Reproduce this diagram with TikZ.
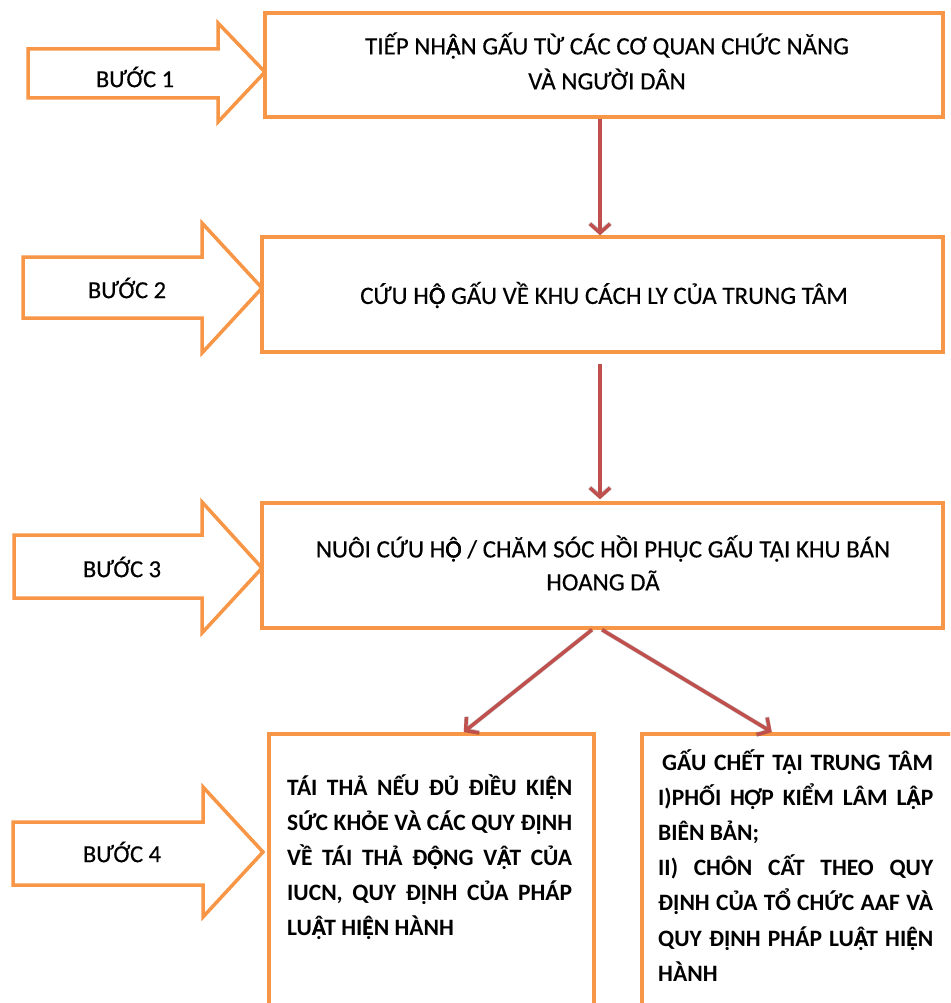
\documentclass[tikz,border=0pt]{standalone}
\usepackage{fontspec}
\setmainfont{Carlito}
\newfontface\heavyface{Carlito}[FakeBold=0.35]
\usetikzlibrary{arrows.meta}
\definecolor{boxorange}{HTML}{F79646}
\definecolor{flowred}{HTML}{C0504D}
% letters with circumflex and dot below, built from two glyphs of equal width
\newcommand{\vnA}{\makebox[0pt][l]{Ạ}Â}
\newcommand{\vnE}{\makebox[0pt][l]{Ẹ}Ê}
\newcommand{\vnO}{\makebox[0pt][l]{Ọ}Ô}
\newcommand{\fullline}[1]{\makebox[\linewidth][s]{#1}}
\tikzset{
  frame/.style={draw=boxorange, line width=3.5pt, fill=white, inner sep=0pt},
  blockarrow/.style={draw=boxorange, line width=3.5pt, line join=miter, fill=white},
  steplabel/.style={font=\heavyface\fontsize{24.5}{26}\selectfont, inner sep=0pt},
  boxtext/.style={font=\heavyface\fontsize{25}{35}\selectfont, align=center, inner sep=0pt},
  sidetext/.style={inner sep=0pt, anchor=base west},
  flow/.style={draw=flowred, line width=3.5pt, -{Straight Barb[length=9pt,width=20pt]}},
  flowshadow/.style={draw=black, opacity=0.18, line width=4.5pt, -{Straight Barb[length=9pt,width=21pt]}},
}
\begin{document}
\begin{tikzpicture}[x=1pt,y=-1pt]
  \clip (0,0) rectangle (950,1003);
  \fill[white] (0,0) rectangle (950,1003);

  % step arrows on the left
  \draw[blockarrow] (28,49) -- (218,49) -- (218,23) -- (265,72) -- (218,122) -- (218,98) -- (28,98) -- cycle;
  \draw[blockarrow] (23,257) -- (202,257) -- (202,223) -- (262,288) -- (202,353) -- (202,318) -- (23,318) -- cycle;
  \draw[blockarrow] (14,535) -- (202,535) -- (202,502) -- (262,568) -- (202,633) -- (202,598) -- (14,598) -- cycle;
  \draw[blockarrow] (13,822) -- (203,822) -- (203,787) -- (263,852) -- (203,917) -- (203,885) -- (13,885) -- cycle;
  \node[steplabel] (s1) at (135,77) {BƯỚC 1};
  \node[steplabel] (s2) at (127,288) {BƯỚC 2};
  \node[steplabel] (s3) at (122,567) {BƯỚC 3};
  \node[steplabel] (s4) at (122,852) {BƯỚC 4};

  % process boxes
  \node[frame, minimum width=678pt, minimum height=104pt] (b1) at (604,65) {};
  \node[frame, minimum width=681pt, minimum height=115pt] (b2) at (602.5,294.5) {};
  \node[frame, minimum width=681pt, minimum height=125pt] (b3) at (602.5,565.5) {};
  \node[frame, minimum width=325pt, minimum height=300pt, anchor=north west] (b4l) at (267,732) {};
  \node[frame, minimum width=320pt, minimum height=300pt, anchor=north west] (b4r) at (640,732) {};

  \node[boxtext] (t1) at (607,61) {TIẾP NH\vnA N GẤU TỪ CÁC CƠ QUAN CHỨC NĂNG\\VÀ NGƯỜI DÂN};
  \node[boxtext] (t2) at (604,295) {CỨU H\vnO{} GẤU VỀ KHU CÁCH LY CỦA TRUNG TÂM};
  \node[boxtext, font=\heavyface\fontsize{25}{33}\selectfont] (t3) at (603,563) {NUÔI CỨU H\vnO{} / CHĂM SÓC HỒI PHỤC GẤU TẠI KHU BÁN\\HOANG DÃ};

  \node[sidetext] (t4l) at (287,795) {\parbox[t]{285pt}{\fontsize{23.5}{35}\selectfont\bfseries
    \fullline{TÁI THẢ NẾU ĐỦ ĐIỀU KI\vnE N}\\
    \fullline{SỨC KHỎE VÀ CÁC QUY ĐỊNH}\\
    \fullline{VỀ TÁI THẢ Đ\vnO NG V\vnA T CỦA}\\
    \fullline{IUCN, QUY ĐỊNH CỦA PHÁP}\\
    LU\vnA T HI\vnE N HÀNH}};
  \node[sidetext] (t4r) at (658,770) {\parbox[t]{275pt}{\fontsize{23.5}{35.2}\selectfont\bfseries
    \hspace*{4pt}\makebox[271pt][s]{GẤU CHẾT TẠI TRUNG TÂM}\\
    \fullline{I)PHỐI HỢP KIỂM LÂM L\vnA P}\\
    BIÊN BẢN;\\
    \fullline{II) CHÔN CẤT THEO QUY}\\
    \fullline{ĐỊNH CỦA TỔ CHỨC AAF VÀ}\\
    \fullline{QUY ĐỊNH PHÁP LU\vnA T HI\vnE N}\\
    HÀNH}};

  % flow connectors with a soft drop shadow
  \foreach \dx/\dy in {1.5/2} {
    \draw[flowshadow, shift={(\dx,\dy)}] ([xshift=-4pt]b1.south) -- ([xshift=-2.5pt]b2.north);
    \draw[flowshadow, shift={(\dx,\dy)}] ([shift={(-2.5,10)}]b2.south) -- ([shift={(-2.5,-2)}]b3.north);
    \draw[flowshadow, shift={(\dx,\dy)}] ([xshift=-10.5pt]b3.south) -- ([xshift=32.5pt]b4l.north);
    \draw[flowshadow, shift={(\dx,\dy)}] ([xshift=-0.5pt]b3.south) -- ([xshift=-30pt]b4r.north);
  }
  \draw[flow] ([xshift=-4pt]b1.south) -- ([xshift=-2.5pt]b2.north);
  \draw[flow] ([shift={(-2.5,10)}]b2.south) -- ([shift={(-2.5,-2)}]b3.north);
  \draw[flow] ([xshift=-10.5pt]b3.south) -- ([xshift=32.5pt]b4l.north);
  \draw[flow] ([xshift=-0.5pt]b3.south) -- ([xshift=-30pt]b4r.north);
\end{tikzpicture}
\end{document}
